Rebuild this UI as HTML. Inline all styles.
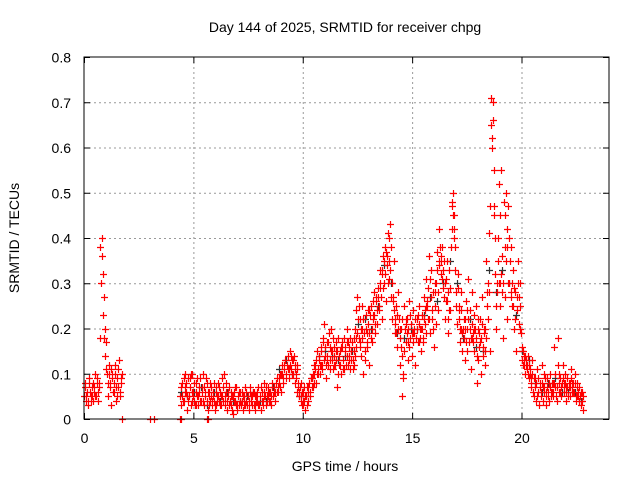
<!DOCTYPE html>
<html><head><meta charset="utf-8"><style>
body{margin:0;background:#fff}
svg{display:block;font-family:"Liberation Sans",sans-serif}
</style></head><body>
<svg id="chart" width="640" height="480" viewBox="0 0 640 480">
<rect width="640" height="480" fill="#fff"/>
<text x="345" y="32" font-size="14" text-anchor="middle" fill="#000">Day 144 of 2025, SRMTID for receiver chpg</text>
<text x="345" y="471" font-size="14" text-anchor="middle" fill="#000">GPS time / hours</text>
<text x="0" y="0" transform="translate(19,238) rotate(-90)" font-size="14" text-anchor="middle" fill="#000">SRMTID / TECUs</text>
<g id="grid"></g>
<g id="ticks"></g>
<g id="pts"></g>
<rect x="84" y="57" width="525" height="362" fill="none" stroke="#000" stroke-width="1"/>
</svg>
<script>
const xTicks=[0,5,10,15,20];
const yTicks=[0,0.1,0.2,0.3,0.4,0.5,0.6,0.7,0.8];
const yTickLabels=["0","0.1","0.2","0.3","0.4","0.5","0.6","0.7","0.8"];
const segAStart=0, segAStep=0.05;
const segAValues=[.05,.08,.04,.06,.03,.09,.05,.07,.04,.06,.1,.05,.08,.04,.07,.38,.4,.32,.27,.2,.17,.1,.05,.12,.08,.03,.1,.06,.12,.04,.09,.07,.13,.05,.08];
const segAValues2=[.07,.05,.06,.04,.08,.06,.04,.05,.08,.07,.05,.09,.06,.08,.18,.3,.36,.23,.18,.14,.11,.08,.1,.07,.11,.09,.06,.08,.1,.07,.05,.11,.06,.09,.1];
const segBStart=4.4, segBStep=0.05;
const segBValues=[
.05,.03,.08,.04,.1,.06,.02,.09,.05,.07,.03,.1,.06,.04,.08,.05,.03,.07,.09,.04,
.06,.1,.03,.05,.08,.02,.06,.04,.07,.03,.05,.08,.02,.06,.04,.07,.03,.05,.09,.04,
.1,.03,.06,.02,.05,.07,.03,.05,.01,.06,.04,.07,.02,.05,.03,.06,.04,.02,.05,.03,
.06,.03,.05,.02,.07,.04,.03,.06,.02,.05,.04,.07,.03,.05,.02,.06,.04,.08,.03,.05,
.07,.04,.06,.03,.08,.05,.07,.04,.09,.06,.08,.1,.06,.12,.09,.11,.13,.1,.12,.09,
.15,.11,.13,.1,.14,.12,.09,.11,.07,.05,.08,.03,.06,.04,.02,.05,.07,.04,.08,.06,
.09,.07,.1,.12,.08,.15,.11,.13,.1,.16,.12,.21,.14,.09,.17,.12,.19,.13,.2,.15,
.11,.16,.13,.07,.18,.12,.15,.1,.17,.13,.11,.16,.2,.12,.14,.18,.13,.17,.11,.15,
.2,.24,.27,.18,.22,.14,.25,.1,.19,.13,.23,.16,.21,.12,.25,.17,.22,.28,.19,.26,
.21,.29,.25,.33,.22,.36,.3,.38,.26,.34,.41,.31,.43,.27,.22,.35,.19,.25,.16,.28,
.22,.12,.2,.05,.1,.25,.17,.22,.13,.26,.18,.21,.14,.24,.19,.12,.22,.17,.25,.2,
.15,.23,.18,.27,.21,.31,.25,.36,.19,.33,.22,.28,.16,.25,.3,.37,.24,.42,.32,.38,
.29,.35,.22,.31,.26,.19,.33,.24,.47,.5,.45,.38,.28,.21,.32,.25,.17,.28,.15,.22,
.13,.26,.2,.31,.17,.24,.11,.28,.19,.15,.25,.08,.2,.16,.22,.1,.27,.14,.19,.12,
.35,.22,.41,.15,.71,.6,.66,.47,.32,.2,.3,.52,.25,.55,.36,.18,.48,.27,.5,.22,
.47,.3,.38,.25,.33,.2,.28,.15,.24,.35,.21,.3,.16,.12,.14,.1,.13,.11,.14,.09,
.1,.07,.13,.05,.09,.04,.11,.06,.03,.08,.05,.12,.04,.07,.03,.09,.06,.04,.1,.05,
.08,.05,.16,.07,.04,.18,.06,.09,.05,.08,.12,.06,.1,.04,.09,.07,.05,.11,.06,.08,
.06,.1,.04,.08,.05,.07,.03,.06,.02];
const segBValues2=[
.07,.05,.04,.09,.06,.08,.05,.04,.07,.1,.06,.05,.08,.03,.06,.09,.05,.06,.04,.07,
.04,.07,.05,.09,.04,.06,.03,.08,.05,.06,.04,.03,.07,.05,.08,.04,.06,.03,.05,.07,
.05,.08,.04,.06,.03,.04,.06,.02,.05,.04,.07,.03,.05,.06,.04,.03,.06,.05,.04,.07,
.04,.05,.03,.06,.04,.05,.06,.03,.05,.04,.06,.03,.05,.07,.04,.03,.06,.05,.07,.04,
.05,.06,.04,.07,.05,.06,.04,.08,.06,.07,.09,.07,.1,.08,.11,.13,.09,.12,.14,.11,
.12,.14,.1,.13,.11,.1,.12,.08,.06,.07,.05,.06,.04,.07,.05,.03,.06,.08,.05,.09,
.07,.1,.08,.11,.13,.1,.14,.12,.15,.11,.18,.13,.16,.12,.14,.17,.11,.15,.13,.18,
.14,.12,.17,.15,.1,.14,.12,.16,.13,.18,.15,.12,.14,.17,.16,.11,.15,.13,.18,.14,
.16,.19,.22,.25,.17,.2,.18,.22,.15,.2,.17,.24,.19,.23,.18,.2,.26,.23,.21,.24,
.27,.24,.3,.27,.33,.29,.35,.32,.37,.3,.35,.33,.38,.3,.27,.24,.21,.19,.23,.2,
.18,.16,.22,.09,.15,.2,.22,.19,.2,.16,.23,.19,.17,.2,.22,.18,.2,.23,.21,.18,
.2,.17,.22,.24,.19,.26,.29,.22,.31,.27,.24,.2,.28,.21,.33,.28,.35,.38,.35,.31,
.33,.27,.3,.35,.28,.24,.29,.38,.42,.45,.4,.33,.25,.29,.22,.2,.24,.19,.2,.18,
.22,.17,.24,.22,.2,.18,.21,.17,.23,.2,.18,.14,.22,.19,.17,.21,.16,.2,.15,.18,
.25,.3,.28,.47,.65,.7,.55,.4,.25,.28,.35,.3,.45,.32,.28,.3,.38,.35,.42,.3,
.4,.35,.28,.3,.25,.29,.22,.27,.3,.27,.25,.19,.13,.15,.12,.14,.12,.1,.12,.11,
.08,.1,.06,.09,.07,.08,.05,.09,.07,.06,.08,.07,.06,.09,.06,.07,.05,.08,.07,.06,
.06,.08,.1,.05,.07,.12,.08,.06,.07,.09,.07,.08,.06,.07,.05,.08,.07,.09,.08,.06,
.08,.05,.07,.06,.04,.05,.06,.04,.05];
const segCStart=4.4, segCStep=0.1;
const segCValues=[
.06,.04,.07,.05,.09,.04,.06,.03,.05,.07,.04,.06,.03,.05,.04,.06,.03,.05,.04,.05,
.04,.06,.03,.05,.04,.03,.05,.04,.06,.03,.05,.04,.05,.06,.03,.05,.04,.06,.05,.04,
.06,.05,.07,.06,.09,.11,.1,.12,.13,.11,.12,.1,.08,.06,.05,.04,.03,.05,.07,.06,
.09,.12,.1,.14,.12,.17,.15,.13,.16,.14,.12,.15,.13,.16,.11,.14,.17,.13,.15,.12,
.18,.21,.16,.2,.22,.19,.24,.2,.23,.27,.25,.29,.32,.34,.36,.4,.3,.26,.22,.19,
.2,.14,.18,.21,.17,.2,.19,.22,.2,.17,.2,.23,.25,.22,.27,.24,.3,.26,.34,.36,
.3,.26,.22,.35,.48,.42,.3,.24,.2,.18,.2,.15,.22,.18,.2,.16,.13,.18,.15,.2,
.28,.33,.62,.45,.28,.4,.3,.33,.45,.38,.3,.27,.25,.23,.3,.2,.15,.13,.12,.13,
.09,.06,.08,.05,.07,.06,.1,.05,.08,.06,.08,.09,.07,.1,.06,.08,.07,.06,.08,.07,
.06,.05,.07,.04,.05];
const zeroHours=[1.75,3.0,3.2,4.4,4.45,5.6,5.65];
const NS="http://www.w3.org/2000/svg";
const X=h=>84+h*(525/24);
const Y=v=>419-v*(362/0.8);
const grid=document.getElementById('grid'),ticks=document.getElementById('ticks'),pts=document.getElementById('pts');
function line(p,x1,y1,x2,y2,st,dash){const l=document.createElementNS(NS,'line');l.setAttribute('x1',x1);l.setAttribute('y1',y1);l.setAttribute('x2',x2);l.setAttribute('y2',y2);l.setAttribute('stroke',st);if(dash)l.setAttribute('stroke-dasharray',dash);p.appendChild(l);return l;}
function txt(s,x,y,anchor){const t=document.createElementNS(NS,'text');t.setAttribute('x',x);t.setAttribute('y',y);t.setAttribute('font-size','14');t.setAttribute('text-anchor',anchor);t.textContent=s;ticks.appendChild(t);return t;}
yTicks.forEach((v,i)=>{const y=Y(v)+0.5;
 if(i>0&&i<yTicks.length-1){const g=line(grid,84,y,609,y,'#999','2,3');
 
 }
 line(ticks,84,y,90,y,'#000');line(ticks,603,y,609,y,'#000');
 const t=txt(yTickLabels[i],71,y+5,'end');
 
 });
xTicks.forEach(h=>{const x=X(h)+0.5;
 if(h>0){const g=line(grid,x,57,x,419,'#999','2,3');
 
 }
 line(ticks,x,413,x,419,'#000');line(ticks,x,57,x,63,'#000');
 const t=txt(String(h),x,443,'middle');
 
 });
function plusPath(list){let d='';list.forEach(([h,v])=>{const x=Math.round(X(h))+0.5,y=Math.round(Y(v))+0.5;d+=`M${x-3.5} ${y}h7M${x} ${y-3.5}v7`;});return d;}
function addPath(d,color){const p=document.createElementNS(NS,'path');p.setAttribute('d',d);p.setAttribute('stroke',color);p.setAttribute('stroke-width','1.2');p.setAttribute('fill','none');pts.appendChild(p);return p;}
const grayList=segCValues.map((v,i)=>[segCStart+i*segCStep+0.03,v]);
const g=addPath(plusPath(grayList.filter((_,i)=>i%3===0)),'#333');


const redList=[];
segAValues.forEach((v,i)=>redList.push([segAStart+i*segAStep,v]));
segAValues2.forEach((v,i)=>redList.push([segAStart+i*segAStep+0.025,v]));
segBValues.forEach((v,i)=>redList.push([segBStart+i*segBStep,v]));
segBValues2.forEach((v,i)=>redList.push([segBStart+i*segBStep+0.025,v]));
segCValues.forEach((v,i)=>{if(i%3!==0)redList.push([segCStart+i*segCStep+0.03,v]);});
zeroHours.forEach(h=>redList.push([h,0]));
const r=addPath(plusPath(redList),'#f00');


</script>
</body></html>
